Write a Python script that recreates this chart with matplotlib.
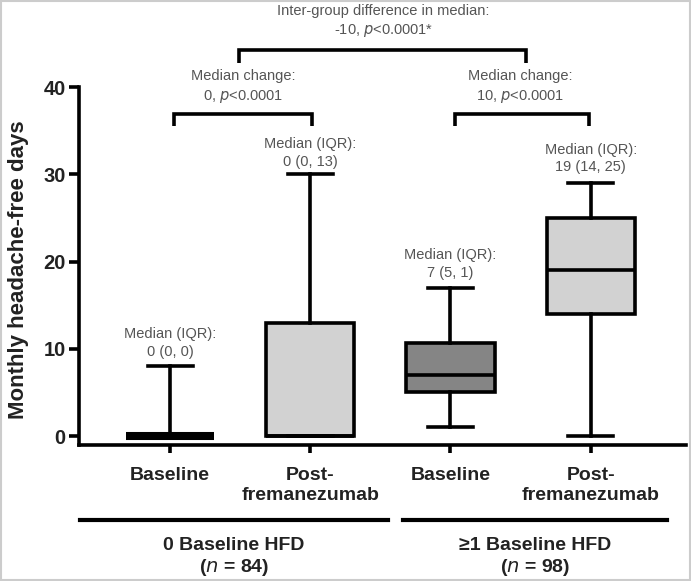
import matplotlib
matplotlib.use("Agg")
import matplotlib.pyplot as plt
from matplotlib.patches import Rectangle
from matplotlib.lines import Line2D

plt.rcParams['font.family'] = ['Liberation Sans', 'DejaVu Sans']

# ---- data ----
categories = ["Baseline", "Post-\nfremanezumab", "Baseline", "Post-\nfremanezumab"]
q1 = [0, 0, 5, 14]
medians = [0, 0, 7, 19]
q3 = [0, 13, 10.7, 25]
whis_lo = [0, 0, 1, 0]
whis_hi = [8, 30, 17, 29]
box_colors = ["#1a1a1a", "#d2d2d2", "#858585", "#d2d2d2"]
iqr_labels = ["Median (IQR):\n0 (0, 0)", "Median (IQR):\n0 (0, 13)",
              "Median (IQR):\n7 (5, 1)", "Median (IQR):\n19 (14, 25)"]
group_labels = ["0 Baseline HFD", "\u22651 Baseline HFD"]
group_n = ["84", "98"]
change_labels = ["Median change:\n0, $\\it{p}$<0.0001", "Median change:\n10, $\\it{p}$<0.0001"]
inter_label = "Inter-group difference in median:\n-10, $\\it{p}$<0.0001*"
yticks = [0, 10, 20, 30, 40]

W, H = 691, 581
fig = plt.figure(figsize=(W / 100, H / 100), dpi=100)
ax = fig.add_axes([79 / W, 1 - 445 / H, (686 - 79) / W, (445 - 87) / H])

LW = 2.6
stats = []
for i in range(4):
    stats.append(dict(med=medians[i], q1=q1[i], q3=q3[i],
                      whislo=whis_lo[i], whishi=whis_hi[i], fliers=[]))
pos = list(range(4))
res = ax.bxp(stats, positions=pos, widths=0.63, capwidths=0.32, patch_artist=True,
             showfliers=False,
             boxprops=dict(linewidth=LW, edgecolor='black'),
             medianprops=dict(linewidth=LW, color='black'),
             whiskerprops=dict(linewidth=LW, color='black'),
             capprops=dict(linewidth=LW, color='black'))
for patch, c in zip(res['boxes'], box_colors):
    patch.set_facecolor(c)
res['medians'][0].set_linewidth(5.8)

ax.set_xlim(-0.65, 3.68)
ax.set_ylim(-1.03, 40)
ax.set_yticks(yticks)
ax.set_xticks(pos)
ax.set_xticklabels(categories)
for s in ['top', 'right']:
    ax.spines[s].set_visible(False)
for s in ['left', 'bottom']:
    ax.spines[s].set_linewidth(LW)
ax.tick_params(axis='y', length=7.5, width=LW, pad=2, labelsize=14.5, labelcolor='#222222')
ax.tick_params(axis='x', length=6, width=LW, pad=10, labelsize=14, labelcolor='#222222')
for lab in ax.get_yticklabels() + ax.get_xticklabels():
    lab.set_fontweight('bold')
ax.set_ylabel("Monthly headache-free days", fontsize=16, fontweight='bold', color='#222222')
ax.yaxis.set_label_coords(-50 / 607, (445 - 270) / (445 - 87))

ann_color = '#555555'
ann_fs = 10.5
ls = 1.35
# IQR labels above whiskers
iqr_y = [10.7, 32.4, 19.7, 31.8]
for i in range(4):
    ax.text(pos[i], iqr_y[i], iqr_labels[i], ha='center', va='center', fontsize=ann_fs,
            color=ann_color, linespacing=ls, clip_on=False)

def bracket(x0, x1, y, drop):
    ax.plot([x0, x0, x1, x1], [y - drop, y, y, y - drop], color='black', lw=LW,
            clip_on=False, solid_joinstyle='miter', solid_capstyle='butt')

# pairwise brackets
bracket(0.03, 1.01, 36.9, 1.4)
bracket(2.03, 2.99, 36.9, 1.4)
ax.text(0.52, 40.0, change_labels[0], ha='center', va='center', fontsize=ann_fs,
        color=ann_color, linespacing=ls, clip_on=False)
ax.text(2.5, 40.0, change_labels[1], ha='center', va='center', fontsize=ann_fs,
        color=ann_color, linespacing=ls, clip_on=False)
# inter-group bracket
bracket(0.49, 2.54, 44.2, 1.4)
ax.text(1.52, 47.5, inter_label, ha='center', va='center', fontsize=ann_fs,
        color=ann_color, linespacing=ls, clip_on=False)

# group lines and labels (figure coords)
for (x0, x1), g, n in zip([(80, 388), (403, 667)], group_labels, group_n):
    fig.add_artist(Line2D([x0 / W, x1 / W], [1 - 520 / H, 1 - 520 / H],
                          color='black', lw=LW + 0.4))
    xc = (x0 + x1) / 2 / W
    fig.text(xc, 1 - 545 / H, g, ha='center', va='center', fontsize=14,
             fontweight='bold', color='#222222')
    fig.text(xc, 1 - 567 / H, "($\\bf{\\it{n}}$ = " + n + ")", ha='center', va='center',
             fontsize=14, fontweight='bold', color='#222222')

# light frame around figure
fig.add_artist(Rectangle((0.002, 0.002), 0.996, 0.996, transform=fig.transFigure,
                         fill=False, edgecolor='#cccccc', lw=1.5))

fig.savefig("out.png", dpi=100)
